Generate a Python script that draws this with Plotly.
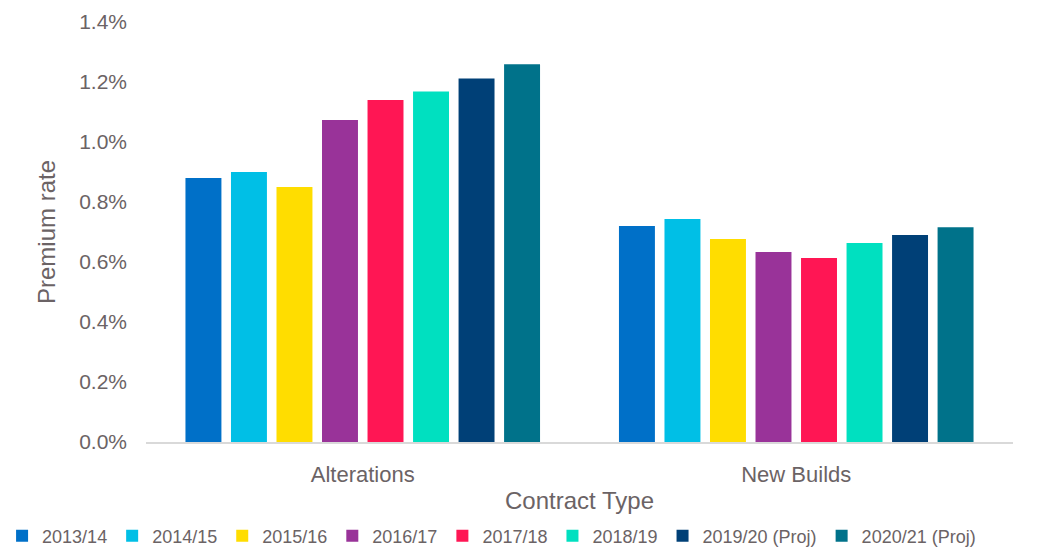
import plotly.graph_objects as go

categories = ["Alterations", "New Builds"]
series_names = ["2013/14", "2014/15", "2015/16", "2016/17", "2017/18", "2018/19",
                "2019/20 (Proj)", "2020/21 (Proj)"]
alterations = [0.0088, 0.0090, 0.0085, 0.01073, 0.0114, 0.01168, 0.01212, 0.01259]
new_builds = [0.0072, 0.00743, 0.00677, 0.00633, 0.00613, 0.00663, 0.0069, 0.00716]
colors = ["#0070C8", "#00BFE6", "#FFDD00", "#993399", "#FF1654", "#00E0C0",
          "#004077", "#00728A"]
y_ticks = [0, 0.002, 0.004, 0.006, 0.008, 0.010, 0.012, 0.014]

text_color = "#6B6365"
fig = go.Figure()
for i, name in enumerate(series_names):
    fig.add_trace(go.Bar(
        name=name, x=categories, y=[alterations[i], new_builds[i]],
        marker=dict(color=colors[i], line=dict(width=0)),
    ))

fig.update_layout(
    width=1044, height=554,
    margin=dict(l=146, r=31, t=22, b=112, autoexpand=False),
    paper_bgcolor="white", plot_bgcolor="white",
    barmode="group", bargap=0.16, bargroupgap=0.21,
    font=dict(family="Liberation Sans, Arial, sans-serif", color=text_color, size=20),
    xaxis=dict(
        showline=True, linecolor="#D9D9D9", linewidth=1.5,
        ticks="", tickfont=dict(size=22), ticklabelstandoff=12,
        title=dict(text="Contract Type", font=dict(size=24), standoff=6),
    ),
    yaxis=dict(
        range=[0, 0.014], tickvals=y_ticks, tickformat=".1%",
        showgrid=False, zeroline=False, showline=False,
        tickfont=dict(size=21), ticklabelstandoff=18,
        title=dict(text="Premium rate", font=dict(size=24), standoff=16),
    ),
    legend=dict(
        orientation="h",
        x=-0.166, xanchor="left", y=-0.224, yanchor="middle",
        font=dict(size=18), itemwidth=30, tracegroupgap=0,
    ),
)

fig.write_html("out.html", config={"displayModeBar": False},
               post_script="document.body.style.margin='0';document.body.style.overflow='hidden';")
